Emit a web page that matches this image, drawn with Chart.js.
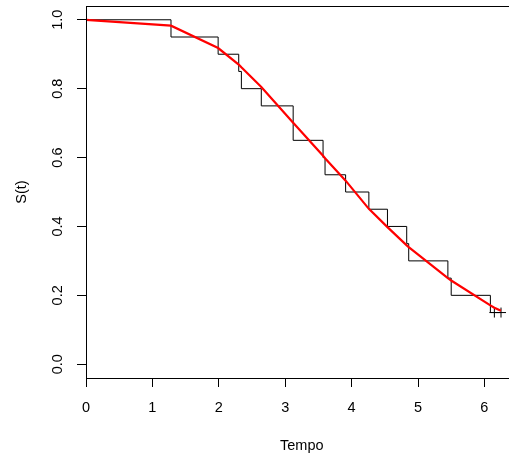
<!DOCTYPE html>
<html>
<head>
<meta charset="utf-8">
<script src="https://cdn.jsdelivr.net/npm/chart.js@4"></script>
<style>
html,body{margin:0;padding:0;background:#fff;overflow:hidden;}
#wrap{width:540px;height:456px;}
</style>
</head>
<body>
<div id="wrap"><canvas id="c" width="540" height="456"></canvas></div>
<script>
// ---- data ----
const kmTimes = [0, 1.28, 1.99, 2.30, 2.34, 2.64, 3.12, 3.57, 3.60, 3.91, 4.26, 4.54, 4.83, 4.86, 5.45, 5.50, 6.09, 6.25];
const kmSurv  = [1.00, 0.95, 0.90, 0.85, 0.80, 0.75, 0.65, 0.60, 0.55, 0.50, 0.45, 0.40, 0.35, 0.30, 0.25, 0.20, 0.15, 0.15];
const censorTimes = [6.15, 6.25];
const censorSurv  = [0.15, 0.15];
const fitTimes = [0, 1.28, 1.99, 2.30, 2.34, 2.64, 3.12, 3.57, 3.60, 3.91, 4.26, 4.54, 4.83, 4.86, 5.45, 5.50, 6.09, 6.15, 6.25];
const fitSurv  = [1.0, 0.983, 0.918, 0.870, 0.862, 0.805, 0.701, 0.605, 0.598, 0.533, 0.451, 0.398, 0.345, 0.340, 0.250, 0.243, 0.171, 0.164, 0.155];
const xTicks = [0, 1, 2, 3, 4, 5, 6];
const yTicks = [0.0, 0.2, 0.4, 0.6, 0.8, 1.0];
const xTickLabels = ["0", "1", "2", "3", "4", "5", "6"];
const yTickLabels = ["0.0", "0.2", "0.4", "0.6", "0.8", "1.0"];
const xTitle = "Tempo";
const yTitle = "S(t)";

const pts = (xs, ys) => xs.map((x, i) => ({x: x, y: ys[i]}));
const FONT = '14.5px "Liberation Sans", Arial, sans-serif';

const rAxes = {
  id: 'rAxes',
  afterDraw(chart) {
    const ctx = chart.ctx, a = chart.chartArea;
    const xs = chart.scales.x, ys = chart.scales.y;
    ctx.save();
    ctx.strokeStyle = '#000';
    ctx.lineWidth = 1;
    ctx.strokeRect(Math.round(a.left) + 0.5, Math.round(a.top) + 0.5,
                   Math.round(a.right - a.left), Math.round(a.bottom - a.top));
    ctx.fillStyle = '#000';
    ctx.font = FONT;
    ctx.textAlign = 'center';
    ctx.textBaseline = 'middle';
    xTicks.forEach((v, i) => ctx.fillText(xTickLabels[i], xs.getPixelForValue(v), 408));
    yTicks.forEach((v, i) => {
      ctx.save();
      ctx.translate(58, ys.getPixelForValue(v));
      ctx.rotate(-Math.PI / 2);
      ctx.fillText(yTickLabels[i], 0, 0);
      ctx.restore();
    });
    ctx.fillText(xTitle, (a.left + a.right) / 2, 446);
    ctx.save();
    ctx.translate(22, (a.top + a.bottom) / 2);
    ctx.rotate(-Math.PI / 2);
    ctx.fillText(yTitle, 0, 0);
    ctx.restore();
    ctx.restore();
  }
};

new Chart(document.getElementById('c'), {
  type: 'line',
  data: {
    datasets: [
      {
        label: 'fit',
        data: pts(fitTimes, fitSurv),
        borderColor: '#ff0000',
        borderWidth: 2.2,
        pointRadius: 0,
        tension: 0,
        fill: false,
        order: 0
      },
      {
        label: 'KM',
        data: pts(kmTimes, kmSurv),
        borderColor: '#000000',
        borderWidth: 1,
        pointRadius: 0,
        stepped: 'before',
        fill: false,
        order: 1
      },
      {
        label: 'censor',
        type: 'scatter',
        data: pts(censorTimes, censorSurv),
        pointStyle: 'cross',
        pointRadius: 5,
        borderColor: '#000000',
        borderWidth: 1,
        showLine: false,
        order: 2
      }
    ]
  },
  options: {
    responsive: false,
    animation: false,
    devicePixelRatio: 1,
    layout: { padding: { left: 0, top: 4, right: 22.4, bottom: 0 } },
    plugins: { legend: { display: false }, tooltip: { enabled: false } },
    scales: {
      x: {
        type: 'linear',
        min: 0, max: 6.5,
        afterBuildTicks: s => { s.ticks = xTicks.map(v => ({value: v})); },
        afterFit: s => { s.height = 78; },
        ticks: { display: false },
        border: { display: false },
        grid: { drawOnChartArea: false, drawTicks: true, tickLength: 9, color: '#000', lineWidth: 1 }
      },
      y: {
        type: 'linear',
        min: -0.04, max: 1.04,
        afterBuildTicks: s => { s.ticks = yTicks.map(v => ({value: v})); },
        afterFit: s => { s.width = 86; },
        ticks: { display: false },
        border: { display: false },
        grid: { drawOnChartArea: false, drawTicks: true, tickLength: 9, color: '#000', lineWidth: 1 }
      }
    }
  },
  plugins: [rAxes]
});
</script>
</body>
</html>
